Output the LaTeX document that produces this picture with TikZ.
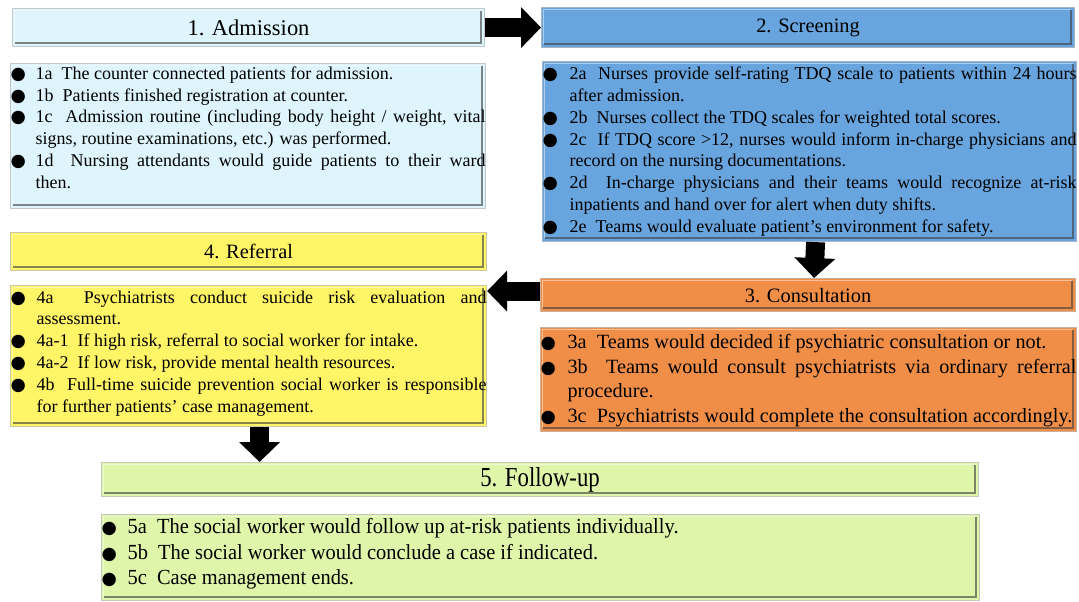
\documentclass[tikz,border=0pt]{standalone}
\usepackage{fontspec}
\setmainfont{Liberation Serif}
\newfontfamily\symfont{DejaVu Sans}
\newfontfamily\tallfont[FakeStretch=0.83]{Liberation Serif}
\newfontfamily\folfont[FakeStretch=0.95]{Liberation Serif}
\usetikzlibrary{arrows.meta}

% one unit of the drawing
\newlength{\px}\setlength{\px}{0.025cm}

% panel colours
\definecolor{admfill}{RGB}{222,245,253}
\definecolor{scrfill}{RGB}{104,164,222}
\definecolor{confill}{RGB}{240,142,72}
\definecolor{reffill}{RGB}{255,245,102}
\definecolor{folfill}{RGB}{222,245,170}

% bullet and hanging item for the panel texts
\newcommand{\dotmark}{{\symfont\fontsize{12.5}{12.5}\selectfont ●}}
\newcommand{\bitem}[2][25]{\hangindent=#1\px\hangafter=1\noindent
  \makebox[#1\px][l]{\dotmark}\ignorespaces#2\par}
% fixed-size text block, top aligned: [top gap] height, width, items
\newcommand{\paneltext}[4][3]{\parbox[c][#2\px][t]{#3\px}{\vspace{#1\px}#4}}

\tikzset{
  panel/.style={fill=#1, draw=#1!55!black!45, line width=0.8pt, inner sep=0pt,
    anchor=north west,
    path picture={
      % bevel: dark on right/bottom, light on top/left
      \draw[#1!45!black!85, line width=1pt]
        ([shift={(-2.5pt,-1.5pt)}]path picture bounding box.north east)
        -- ([shift={(-2.5pt,2.5pt)}]path picture bounding box.south east)
        -- ([shift={(1.5pt,2.5pt)}]path picture bounding box.south west);
      \draw[white!45!#1, line width=1pt]
        ([shift={(1.5pt,2.5pt)}]path picture bounding box.south west)
        -- ([shift={(1.5pt,-1.5pt)}]path picture bounding box.north west)
        -- ([shift={(-2.5pt,-1.5pt)}]path picture bounding box.north east);
    }},
  head/.style={panel=#1, font=\fontsize{14.5}{17}\selectfont},
  body/.style={panel=#1, font=\fontsize{12.8}{15.5}\selectfont},
  blockarrow/.style={line width=13.5pt, -{Triangle[length=14.2pt, width=28.3pt]}},
}

\begin{document}
\begin{tikzpicture}[x=\px, y=-\px]
	\useasboundingbox (0,0) rectangle (1079,601);
	
	% -------- 1. Admission --------
	\node[head=admfill, minimum width=472\px, minimum height=38\px,
	font=\fontsize{16}{19}\selectfont] (adm) at (12,8) {1. Admission};
	\node[body=admfill] (admb) at (10,63) {\paneltext{145}{475}{%
		\bitem{1a~ The counter connected patients for admission.}
		\bitem{1b~ Patients finished registration at counter.}
		\bitem{1c~ Admission routine (including body height / weight, vital\linebreak
			signs, routine examinations, etc.) was performed.}
		\bitem{1d~ Nursing attendants would guide patients to their ward\linebreak then.}}};
	
	% -------- 2. Screening --------
	\node[head=scrfill, minimum width=533\px, minimum height=40\px] (scr) at (541,7) {2. Screening};
	\node[body=scrfill, font=\fontsize{12.8}{15.6}\selectfont] (scrb) at (542,61) {\paneltext[5]{180}{534}{%
		\bitem[27]{2a~ Nurses provide self-rating TDQ scale to patients within 24 hours\linebreak
			after admission.}
		\bitem[27]{2b~ Nurses collect the TDQ scales for weighted total scores.}
		\bitem[27]{2c~ If TDQ score >12, nurses would inform in-charge physicians and\linebreak
			record on the nursing documentations.}
		\bitem[27]{2d~ In-charge physicians and their teams would recognize at-risk\linebreak
			inpatients and hand over for alert when duty shifts.}
		\bitem[27]{2e~ Teams would evaluate patient’s environment for safety.}}};
	
	% -------- 3. Consultation --------
	\node[head=confill, minimum width=535\px, minimum height=33\px] (con) at (540,278) {3. Consultation};
	\node[body=confill, font=\fontsize{14.4}{17.4}\selectfont] (conb) at (540,327) {\paneltext[7]{104}{536}{%
		\bitem[27]{3a~ Teams would decided if psychiatric consultation or not.}
		\bitem[27]{3b~ Teams would consult psychiatrists via ordinary referral\linebreak procedure.}
		\bitem[27]{3c~ Psychiatrists would complete the consultation accordingly.}}};
	
	% -------- 4. Referral --------
	\node[head=reffill, minimum width=476\px, minimum height=38\px] (ref) at (10,232) {4. Referral};
	\node[body=reffill, font=\fontsize{12.8}{15.6}\selectfont] (refb) at (10,285) {\paneltext[5]{141}{476}{%
		\bitem[26]{4a~ Psychiatrists conduct suicide risk evaluation and\linebreak assessment.}
		\bitem[26]{4a-1~ If high risk, referral to social worker for intake.}
		\bitem[26]{4a-2~ If low risk, provide mental health resources.}
		\bitem[26]{4b~ Full-time suicide prevention social worker is responsible\linebreak
			for further patients’ case management.}}};
	
	% -------- 5. Follow-up --------
	\node[head=folfill, minimum width=877\px, minimum height=34\px,
	font=\tallfont\fontsize{19.5}{22}\selectfont] (fol) at (101,462) {5. Follow-up};
	\node[body=folfill, font=\folfont\fontsize{15.3}{18.1}\selectfont] (folb) at (101,514) {\paneltext[4]{86}{878}{%
		\bitem[26]{5a~ The social worker would follow up at-risk patients individually.}
		\bitem[26]{5b~ The social worker would conclude a case if indicated.}
		\bitem[26]{5c~ Case management ends.}}};
	
	% -------- Block arrows between the stages --------
	\coordinate (c3) at ([yshift=4\px]con.west);
	\draw[blockarrow] (adm.east) -- (scr.west);
	\draw[blockarrow] ([xshift=6\px]scrb.south) -- ([xshift=6\px]con.north);
	\draw[blockarrow] (c3) -- (c3 -| refb.east);
	\draw[blockarrow] ([xshift=11\px]refb.south) -- ([xshift=11\px]refb.south |- fol.north);
	
\end{tikzpicture}
\end{document}
